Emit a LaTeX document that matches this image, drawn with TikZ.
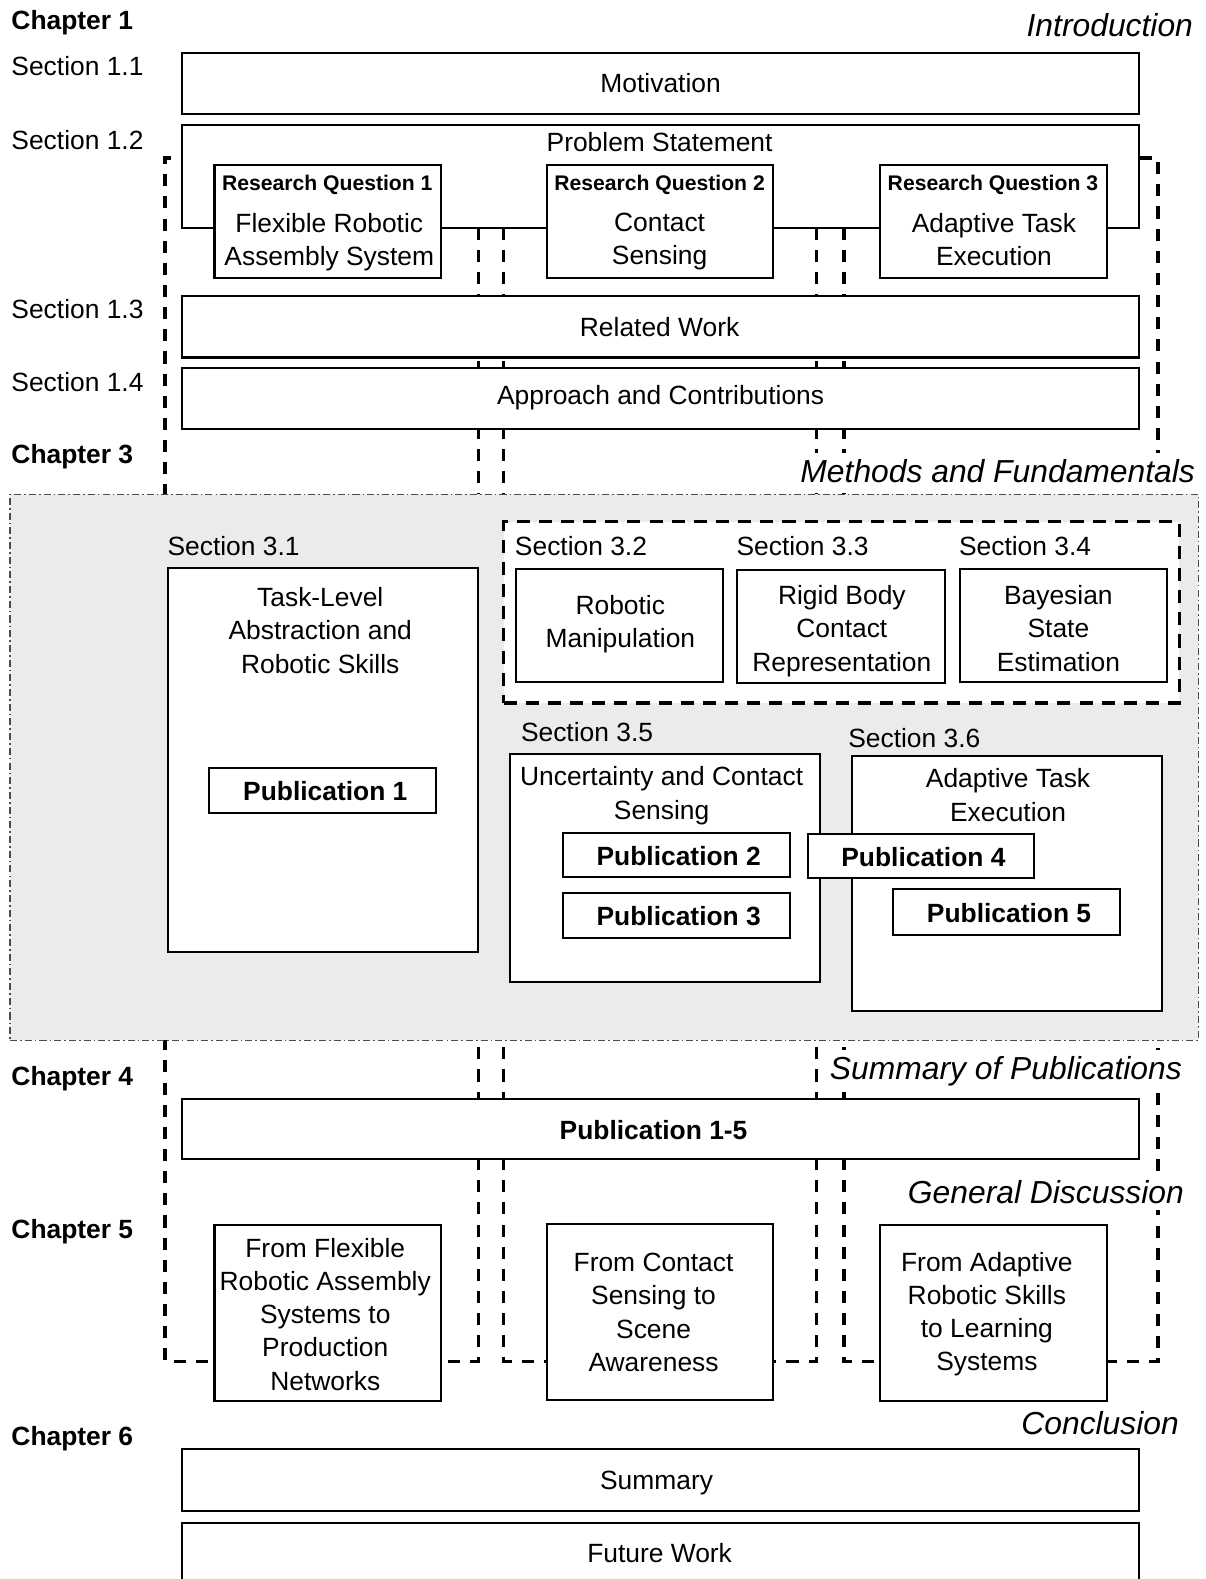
\documentclass[tikz,border=0pt]{standalone}
\usepackage{fontspec}
\setmainfont{Liberation Sans}
\usetikzlibrary{fit}
\pgfdeclarelayer{threads}
\pgfdeclarelayer{panel}
\pgfsetlayers{threads,panel,main}

\begin{document}
\begin{tikzpicture}[x=0.5pt,y=-0.5pt,
  box/.style={draw, line width=1pt, fill=white, inner sep=0pt},
  body/.style={inner sep=0pt, align=center, font=\fontsize{13.1}{16.5}\selectfont},
  bodyb/.style={inner sep=0pt, align=center, font=\fontsize{13.1}{16.5}\selectfont\bfseries},
  chap/.style={inner sep=0pt, anchor=base west, font=\fontsize{13.1}{16.5}\selectfont\bfseries},
  sect/.style={inner sep=0pt, anchor=base west, font=\fontsize{13.1}{16.5}\selectfont},
  parttitle/.style={anchor=base east, inner sep=3pt, fill=white, font=\fontsize{15.8}{19}\selectfont\itshape},
  rqhead/.style={inner sep=0pt, anchor=base, font=\fontsize{10.5}{12}\selectfont\bfseries},
  thread/.style={line width=1.7pt, dash pattern=on 6pt off 5pt},
  groupbox/.style={draw, fill=white, inner sep=0pt, line width=1.7pt, dash pattern=on 6.5pt off 4.5pt},
  methods/.style={draw=black!70, fill=black!8, inner sep=0pt, line width=0.6pt,
                  dash pattern=on 3.5pt off 1.5pt on 0.8pt off 1.5pt}
]
\useasboundingbox (0,0) rectangle (1197,1568);

% ---------- Chapter 1: introduction ----------
\node[chap] (c1) at (11,29) {Chapter 1};
\node[sect] (s11) at (11,75) {Section 1.1};
\node[sect] (s12) at (11,148) {Section 1.2};
\node[sect] (s13) at (11,316) {Section 1.3};
\node[sect] (s14) at (11,389) {Section 1.4};
\node[parttitle] (ptintro) at (1191,36) {Introduction};

\node[box, fit={(181,53) (1131,113)}] (motiv) {};
\node[body, anchor=base] (motivtxt) at (656,92) {Motivation};

\node[box, fit={(181,124) (1131,226)}] (ps) {};
\node[body, anchor=base] (pstxt) at (655,150) {Problem Statement};

\node[box, fit={(213,164) (438,276)}] (rq1) {};
\node[rqhead] (rq1h) at (325,189) {Research Question 1};
\node[body, anchor=north] (rq1txt) at (327,211) {Flexible Robotic\\Assembly System};

\node[box, fit={(543,164) (768,276)}] (rq2) {};
\node[rqhead] (rq2h) at (655,189) {Research Question 2};
\node[body, anchor=north] (rq2txt) at (655,211) {Contact\\Sensing};

\node[box, fit={(874,164) (1099,276)}] (rq3) {};
\node[rqhead] (rq3h) at (986,189) {Research Question 3};
\node[body, anchor=north] (rq3txt) at (987,211) {Adaptive Task\\Execution};

\node[box, fit={(181,294) (1131,355)}] (related) {};
\node[body, anchor=base] (relatedtxt) at (655,334) {Related Work};

\node[box, fit={(181,365) (1131,426)}] (approach) {};
\node[body, anchor=base] (approachtxt) at (656,402) {Approach and Contributions};

% ---------- Chapter 3: methods and fundamentals ----------
\node[chap] (c3) at (11,460) {Chapter 3};
\node[parttitle] (ptmethods) at (1193,479) {Methods and Fundamentals};

\begin{pgfonlayer}{panel}
\node[methods, fit={(10,491) (1190,1033)}] (ch3) {};
\end{pgfonlayer}

\node[sect] (s31) at (166,552) {Section 3.1};
\node[box, fit={(167,564) (475,945)}] (task) {};
\node[body, anchor=north] (tasktxt) at (318,583) {Task-Level\\Abstraction and\\Robotic Skills};
\node[box, fit={(208,763) (433,807)}] (pub1) {};
\node[bodyb, anchor=base] (pub1txt) at (323,795) {Publication 1};

\node[groupbox, fit={(500,518) (1171,698)}] (grp) {};
\node[sect] (s32) at (511,552) {Section 3.2};
\node[sect] (s33) at (731,552) {Section 3.3};
\node[sect] (s34) at (952,552) {Section 3.4};
\node[box, fit={(512,565) (718,677)}] (manip) {};
\node[body, anchor=north] (maniptxt) at (616,591) {Robotic\\Manipulation};
\node[box, fit={(732,566) (938,678)}] (rigid) {};
\node[body, anchor=north] (rigidtxt) at (836,581) {Rigid Body\\Contact\\Representation};
\node[box, fit={(953,565) (1159,677)}] (bayes) {};
\node[body, anchor=north] (bayestxt) at (1051,581) {Bayesian\\State\\Estimation};

\node[sect] (s35) at (517,736) {Section 3.5};
\node[box, fit={(506,749) (814,975)}] (uncert) {};
\node[body, anchor=north] (uncerttxt) at (657,761) {Uncertainty and Contact\\Sensing};
\node[box, fit={(559,827) (784,871)}] (pub2) {};
\node[bodyb, anchor=base] (pub2txt) at (674,859) {Publication 2};
\node[box, fit={(559,887) (784,931)}] (pub3) {};
\node[bodyb, anchor=base] (pub3txt) at (674,919) {Publication 3};

\node[sect] (s36) at (842,742) {Section 3.6};
\node[box, fit={(846,751) (1154,1004)}] (adapt) {};
\node[body, anchor=north] (adapttxt) at (1001,763) {Adaptive Task\\Execution};
\node[box, fit={(802,828) (1027,872)}] (pub4) {};
\node[bodyb, anchor=base] (pub4txt) at (917,860) {Publication 4};
\node[box, fit={(887,883) (1112,928)}] (pub5) {};
\node[bodyb, anchor=base] (pub5txt) at (1002,916) {Publication 5};

% ---------- Chapter 4: summary of publications ----------
\node[chap] (c4) at (11,1078) {Chapter 4};
\node[parttitle] (ptsummary) at (1180,1072) {Summary of Publications};
\node[box, fit={(181,1091) (1131,1151)}] (puball) {};
\node[bodyb, anchor=base] (puballtxt) at (649,1132) {Publication 1-5};

% ---------- Chapter 5: general discussion ----------
\node[chap] (c5) at (11,1230) {Chapter 5};
\node[parttitle] (ptdiscussion) at (1182,1195) {General Discussion};
\node[box, fit={(213,1216) (438,1391)}] (b1) {};
\node[body, anchor=north] (b1txt) at (323,1229) {From Flexible\\Robotic Assembly\\Systems to\\Production\\Networks};
\node[box, fit={(543,1215) (768,1390)}] (b2) {};
\node[body, anchor=north] (b2txt) at (649,1244) {From Contact\\Sensing to\\Scene\\Awareness};
\node[box, fit={(874,1216) (1099,1391)}] (b3) {};
\node[body, anchor=north] (b3txt) at (980,1243) {From Adaptive\\Robotic Skills\\to Learning\\Systems};

% ---------- Chapter 6: conclusion ----------
\node[chap] (c6) at (11,1435) {Chapter 6};
\node[parttitle] (ptconclusion) at (1177,1424) {Conclusion};
\node[box, fit={(181,1439) (1131,1500)}] (summary) {};
\node[body, anchor=base] (summarytxt) at (652,1479) {Summary};
\node[box, fit={(181,1512) (1131,1576)}] (future) {};
\node[body, anchor=base] (futuretxt) at (655,1552) {Future Work};

% ---------- dashed threads linking each research question to its discussion ----------
\coordinate (tapline) at (0,157);
\coordinate (rqline) at (0,226);
\coordinate (footline) at (0,1352);
\coordinate (t1) at (164,0);
\coordinate (t2) at (475,0);
\coordinate (t3) at (500,0);
\coordinate (t4) at (811,0);
\coordinate (t5) at (838,0);
\coordinate (t6) at (1150,0);

\begin{pgfonlayer}{threads}
\draw[thread, dash phase=6pt] (ps.west |- tapline) -- (t1 |- tapline) -- (t1 |- footline) -- (b1.west |- footline);
\draw[thread] (t2 |- rqline) -- (t2 |- footline) -- (b1.east |- footline);
\draw[thread] (t3 |- rqline) -- (t3 |- footline) -- (b2.west |- footline);
\draw[thread] (t4 |- rqline) -- (t4 |- footline) -- (b2.east |- footline);
\draw[thread] (t5 |- rqline) -- (t5 |- footline) -- (b3.west |- footline);
\draw[thread] (ps.east |- tapline) -- (t6 |- tapline) -- (t6 |- footline) -- (b3.east |- footline);
\end{pgfonlayer}
\end{tikzpicture}
\end{document}
